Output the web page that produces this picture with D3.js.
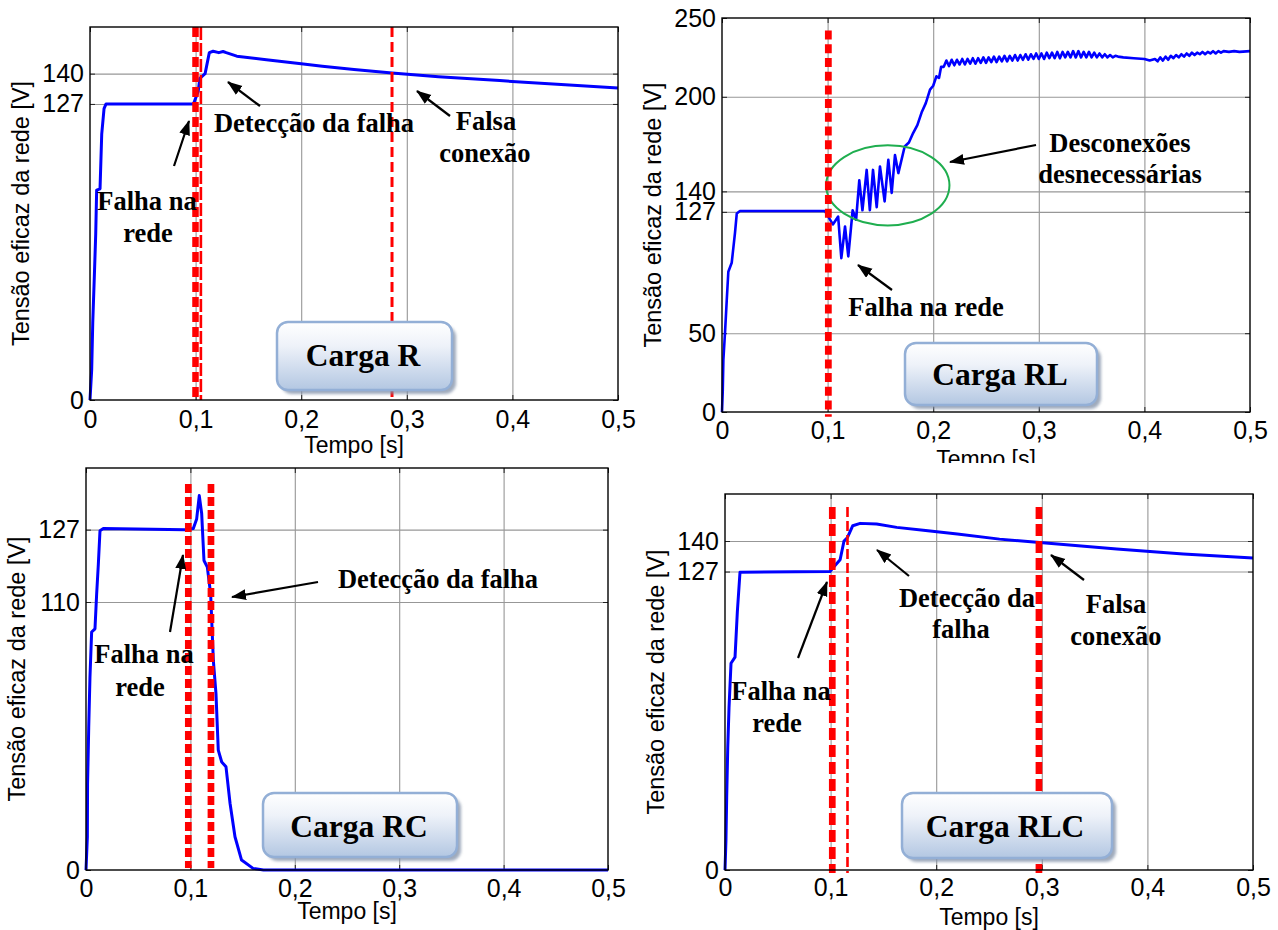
<!DOCTYPE html>
<html><head><meta charset="utf-8">
<script src="https://cdn.jsdelivr.net/npm/d3@7"></script>
<style>body{margin:0;background:#fff} svg{display:block}</style>
</head><body>
<svg id="c" width="1278" height="930"></svg>
<script>
// ---------- DATA ----------
const xTickValues = [0, 0.1, 0.2, 0.3, 0.4, 0.5];
const xTickLabels = ["0", "0,1", "0,2", "0,3", "0,4", "0,5"];
const xGridValues = [0.1, 0.2, 0.3, 0.4];
const xAxisLabel = "Tempo [s]";
const yAxisLabel = "Tensão eficaz da rede [V]";

// Carga R
const R_time = [0,0.0016,0.0026,0.0041,0.0054,0.0063,0.0095,0.0111,0.0133,0.0152,0.098,0.1025,0.104,0.109,0.113,0.1166,0.122,0.126,0.129,0.139,0.167,0.2,0.22,0.25,0.286,0.33,0.388,0.45,0.5];
const R_volt = [0,13,33,53,71,90,90.6,114,125,127,127,132.5,138,140,149,149.6,149,149.5,149,147.5,146,144.2,143.2,141.8,140.3,138.7,137,135.2,133.8];
const R_yTicks = [0, 127, 140];
const R_yTickLabels = ["0", "127", "140"];
const R_events = [0.0999, 0.105, 0.286];

// Carga RL
const RL_time = [0,0.0007,0.0013,0.0029,0.0045,0.006,0.0092,0.0123,0.014,0.017,0.0975,0.105,0.110,0.113,0.1165,0.1196,0.1237,0.127,0.130,0.133,0.137,0.140,0.143,0.1465,0.1496,0.154,0.1575,0.1607,0.1638,0.167,0.173,0.177,0.181,0.185,0.189,0.193,0.197,0.200,0.203,0.2055,0.2075,
 0.2100,0.2125,0.2150,0.2175,0.2200,0.2225,0.2250,0.2275,0.2300,0.2325,0.2350,0.2375,0.2400,0.2425,0.2450,0.2475,0.2500,0.2525,0.2550,0.2575,0.2600,0.2625,0.2650,0.2675,0.2700,0.2725,0.2750,0.2775,0.2800,0.2825,0.2850,0.2875,0.2900,0.2925,0.2950,0.2975,0.3000,0.3025,0.3050,0.3075,0.3100,0.3125,0.3150,0.3175,0.3200,0.3225,0.3250,0.3275,0.3300,0.3325,0.3350,0.3375,0.3400,0.3425,0.3450,0.3475,0.3500,0.3525,0.3550,0.3575,0.3600,0.3625,0.3650,0.3675,0.3700,0.3725,0.3750,0.3800,0.3900,0.4000,0.4050,0.4100,0.4125,0.4150,0.4175,0.4200,0.4225,0.4250,0.4275,0.4300,0.4325,0.4350,0.4375,0.4400,0.4425,0.4450,0.4475,0.4500,0.4525,0.4550,0.4575,0.4600,0.4625,0.4650,0.4675,0.4700,0.4725,0.4750,0.4800,0.4850,0.4900,0.5000];
const RL_volt = [0,13,33,51,71,89,94.7,113.6,126,127.5,127.5,119,124,97.6,117.7,98.7,128,122,147,128,153.6,128,153.6,130,155.8,133.6,160,139,163,151.6,168.5,171,177,182,190,196,204.6,207,213,212,219,
 219,223,219.5,223.5,220,223.5,220.5,224,220.5,224,221,224.5,221,224.5,221.5,225,221.5,225,222,225.5,222,225.5,222.5,226,222.5,226,223,226.5,223,226.5,223.5,227,223.5,227,224,227.5,224,227.5,224,228,224.5,228,224.5,228.5,224.5,228.5,225,228.5,225,229,225,229,225,228.5,225,228.5,225,228,225,227.5,225,227,225,226.5,225,226,225.5,225,224.5,224,223,224,222.5,225,223,225.5,223.5,226,224.5,226.5,225,227,225.5,227.5,226,228,226.5,228,227,228.5,227,228.5,227.5,229,227.5,229,228,229,228.5,229,228.5,229];
const RL_yTicks = [0, 50, 127, 140, 200, 250];
const RL_yTickLabels = ["0", "50", "127", "140", "200", "250"];
const RL_events = [0.1007];
const RL_ellipse = {t: 0.157, v: 143.8, dt: 0.0584, dv: 25.4};

// Carga RC
const RC_time = [0,0.0013,0.0015,0.0026,0.0038,0.0054,0.0086,0.0102,0.0118,0.0134,0.0166,0.0948,0.1028,0.106,0.1085,0.1108,0.113,0.1162,0.1194,0.122,0.1245,0.1267,0.130,0.1341,0.138,0.1427,0.149,0.160,0.17,0.5];
const RC_volt = [0,12.4,32,53,72,88.8,90,103,114,126.6,127.4,127,127.4,131,139.7,133,115.5,113,103,78,65.8,44.7,40.3,38.5,24.8,12.4,3.7,0.6,0,0];
const RC_yTicks = [0, 100, 127];
const RC_yTickLabels = ["0", "110", "127"];
const RC_events = [0.098, 0.1197];

// Carga RLC
const RLC_time = [0,0.0009,0.0016,0.0026,0.0038,0.0057,0.0095,0.0117,0.0142,0.0994,0.104,0.109,0.1127,0.116,0.121,0.128,0.1436,0.1626,0.19,0.22,0.26,0.298,0.371,0.434,0.5];
const RLC_volt = [0,12.7,31,52,69,88,90.6,110,126.7,127,129.5,132,140,141.5,146.5,147.5,147.2,145.8,144.5,143,140.8,139.4,136.6,134.5,132.8];
const RLC_yTicks = [0, 127, 140];
const RLC_yTickLabels = ["0", "127", "140"];
const RLC_events = [0.1016, 0.116, 0.2973];

// ---------- LAYOUT / STYLE ----------
const svg = d3.select("#c");
const defs = svg.append("defs");
defs.append("marker").attr("id","ah").attr("markerUnits","userSpaceOnUse")
  .attr("markerWidth",16).attr("markerHeight",12).attr("refX",14).attr("refY",5.5)
  .attr("orient","auto")
  .append("path").attr("d","M0,0 L15,5.5 L0,11 Z").attr("fill","#000");
const grad = defs.append("linearGradient").attr("id","boxg").attr("x1",0).attr("y1",0).attr("x2",0).attr("y2",1);
grad.append("stop").attr("offset","0%").attr("stop-color","#ffffff");
grad.append("stop").attr("offset","35%").attr("stop-color","#eef2f9");
grad.append("stop").attr("offset","100%").attr("stop-color","#b3c7e2");
const blur = defs.append("filter").attr("id","sh").attr("x","-10%").attr("y","-10%").attr("width","130%").attr("height","140%");
blur.append("feGaussianBlur").attr("stdDeviation",1.5);
defs.append("clipPath").attr("id","clip2").append("rect").attr("x",630).attr("y",0).attr("width",648).attr("height",463);

const SANS = "'Liberation Sans', Arial, sans-serif";
const SERIF = "'Liberation Serif', 'Times New Roman', serif";

const panels = [
  { time: R_time, volt: R_volt, yTicks: R_yTicks, yLabels: R_yTickLabels, ymax: 160,
    left: 90, right: 618, top: 27, bottom: 400, events: R_events,
    evStyle: [{w:6.5,d:"10,5"},{w:2.6,d:"13,3"},{w:3,d:"10,5"}], evRange: [0,160],
    xlabY: 453, xPad: 10, lw: 3,
    box: {x:277,y:322,w:175,h:68,text:"Carga R",tx:363,ty:366},
    texts: [["Falha na",147,210],["rede",148,242],["Detecção da falha",314,132],["Falsa",486,130],["conexão",485,162]],
    arrows: [[174,166,189,121],[260,106,228,82],[450,116,417,91]] },
  { time: RL_time, volt: RL_volt, yTicks: RL_yTicks, yLabels: RL_yTickLabels, ymax: 250,
    left: 722, right: 1250, top: 18, bottom: 412, events: RL_events,
    evStyle: [{w:6.8,d:"9,4.7"}], evRange: [-3,242],
    xlabY: 467, xPad: 9, lw: 2.6, clip: "url(#clip2)", ellipse: RL_ellipse,
    box: {x:905,y:343,w:192,h:62,text:"Carga RL",tx:1000,ty:385},
    texts: [["Desconexões",1120,152],["desnecessárias",1120,183],["Falha na rede",926,316]],
    arrows: [[1036,145,950,162],[892,290,858,265]] },
  { time: RC_time, volt: RC_volt, yTicks: RC_yTicks, yLabels: RC_yTickLabels, ymax: 150,
    left: 86, right: 608, top: 468, bottom: 870, events: RC_events,
    evStyle: [{w:6.7,d:"9,4"},{w:6.7,d:"9,4"}], evRange: [0.7,144],
    xlabY: 919, xPad: 9, lw: 3,
    box: {x:263,y:793,w:194,h:64,text:"Carga RC",tx:359,ty:837},
    texts: [["Falha na",144,663],["rede",140,696],["Detecção da falha",438,588]],
    arrows: [[170,632,183,555],[318,582,232,597]] },
  { time: RLC_time, volt: RLC_volt, yTicks: RLC_yTicks, yLabels: RLC_yTickLabels, ymax: 160,
    left: 725, right: 1253, top: 494, bottom: 870, events: RLC_events,
    evStyle: [{w:6.7,d:"12,5"},{w:2.6,d:"10,4"},{w:6.7,d:"12,5"}], evRange: [-1.3,154.5],
    xlabY: 925, xPad: 8, lw: 3,
    box: {x:902,y:793,w:210,h:65,text:"Carga RLC",tx:1005,ty:837},
    texts: [["Falha na",781,700],["rede",777,732],["Detecção da",967,607],["falha",961,638],["Falsa",1116,613],["conexão",1116,645]],
    arrows: [[798,658,827,582],[909,576,877,550],[1084,580,1051,555]] }
];

panels.forEach(p => {
  const g = svg.append("g");
  if (p.clip) g.attr("clip-path", p.clip);
  const x = d3.scaleLinear().domain([0, 0.5]).range([p.left, p.right]);
  const y = d3.scaleLinear().domain([0, p.ymax]).range([p.bottom, p.top]);
  const H = p.bottom - p.top, W = p.right - p.left;

  // grid
  const gx = g.append("g").attr("transform", `translate(0,${p.bottom})`)
    .call(d3.axisBottom(x).tickValues(xGridValues).tickSize(-H).tickFormat(""));
  const gy = g.append("g").attr("transform", `translate(${p.left},0)`)
    .call(d3.axisLeft(y).tickValues(p.yTicks.filter(v => v > 0 && v < p.ymax)).tickSize(-W).tickFormat(""));
  [gx, gy].forEach(a => { a.select(".domain").remove(); a.selectAll("line").attr("stroke", "#979797").attr("stroke-width", 1.1); });

  // inward ticks on four sides
  const tickG = [
    [d3.axisBottom(x).tickValues(xTickValues).tickSize(-5), `translate(0,${p.bottom})`],
    [d3.axisTop(x).tickValues(xTickValues).tickSize(-5), `translate(0,${p.top})`],
    [d3.axisLeft(y).tickValues(p.yTicks).tickSize(-5), `translate(${p.left},0)`],
    [d3.axisRight(y).tickValues(p.yTicks).tickSize(-5), `translate(${p.right},0)`]
  ];
  tickG.forEach(([ax, tr]) => {
    const a = g.append("g").attr("transform", tr).call(ax.tickFormat(""));
    a.select(".domain").remove();
    a.selectAll("line").attr("stroke", "#222").attr("stroke-width", 1);
  });

  // tick labels
  const lx = g.append("g").attr("transform", `translate(0,${p.bottom})`)
    .call(d3.axisBottom(x).tickValues(xTickValues).tickSize(0).tickPadding(p.xPad)
      .tickFormat((d, i) => xTickLabels[i]));
  const ly = g.append("g").attr("transform", `translate(${p.left},0)`)
    .call(d3.axisLeft(y).tickValues(p.yTicks).tickSize(0).tickPadding(6)
      .tickFormat((d, i) => p.yLabels[i]));
  [lx, ly].forEach(a => {
    a.select(".domain").remove();
    a.selectAll("text").attr("font-family", SANS).attr("font-size", 25).attr("fill", "#000");
  });

  // axis titles
  g.append("text").attr("x", (p.left + p.right) / 2).attr("y", p.xlabY)
    .attr("text-anchor", "middle").attr("font-family", SANS).attr("font-size", 23).text(xAxisLabel);
  g.append("text").attr("transform", `translate(${p.left - 69},${(p.top + p.bottom) / 2}) rotate(-90)`)
    .attr("text-anchor", "middle").attr("dominant-baseline", "central")
    .attr("font-family", SANS).attr("font-size", 23.5).text(yAxisLabel);

  // data line
  const pts = p.time.map((t, i) => [t, p.volt[i]]);
  g.append("path").datum(pts).attr("fill", "none").attr("stroke", "#0000ff")
    .attr("stroke-width", p.lw).attr("stroke-linejoin", "round")
    .attr("d", d3.line().x(d => x(d[0])).y(d => y(d[1])));

  // green ellipse
  if (p.ellipse) {
    const e = p.ellipse;
    g.append("ellipse").attr("cx", x(e.t)).attr("cy", y(e.v))
      .attr("rx", x(e.t + e.dt) - x(e.t)).attr("ry", y(e.v) - y(e.v + e.dv))
      .attr("fill", "none").attr("stroke", "#1fae4f").attr("stroke-width", 2);
  }

  // red event lines
  p.events.forEach((t, i) => {
    const s = p.evStyle[i];
    g.append("line").attr("x1", x(t)).attr("x2", x(t))
      .attr("y1", y(p.evRange[1])).attr("y2", y(p.evRange[0]))
      .attr("stroke", "#ff0000").attr("stroke-width", s.w).attr("stroke-dasharray", s.d);
  });

  // frame
  g.append("rect").attr("x", p.left).attr("y", p.top).attr("width", W).attr("height", H)
    .attr("fill", "none").attr("stroke", "#000").attr("stroke-width", 1.4);

  // box label
  const b = p.box;
  g.append("rect").attr("x", b.x + 4).attr("y", b.y + 4).attr("width", b.w).attr("height", b.h)
    .attr("rx", 11).attr("fill", "#7f8ea6").attr("opacity", 0.75).attr("filter", "url(#sh)");
  g.append("rect").attr("x", b.x).attr("y", b.y).attr("width", b.w).attr("height", b.h)
    .attr("rx", 11).attr("fill", "url(#boxg)").attr("stroke", "#93afd6").attr("stroke-width", 2.5);
  g.append("text").attr("x", b.tx).attr("y", b.ty).attr("text-anchor", "middle")
    .attr("font-family", SERIF).attr("font-weight", "bold").attr("font-size", 31.5).text(b.text);

  // annotations
  p.texts.forEach(([s, tx, ty]) => {
    g.append("text").attr("x", tx).attr("y", ty).attr("text-anchor", "middle")
      .attr("font-family", SERIF).attr("font-weight", "bold").attr("font-size", 26.5).text(s);
  });
  p.arrows.forEach(([x1, y1, x2, y2]) => {
    g.append("line").attr("x1", x1).attr("y1", y1).attr("x2", x2).attr("y2", y2)
      .attr("stroke", "#000").attr("stroke-width", 2.2).attr("marker-end", "url(#ah)");
  });
});
</script>
</body></html>
